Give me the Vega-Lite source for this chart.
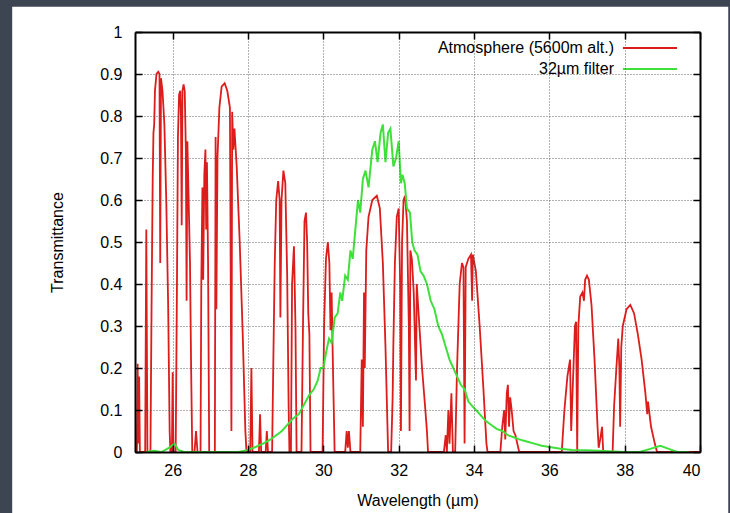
{
  "$schema": "https://vega.github.io/schema/vega-lite/v6.json",
  "width": 565,
  "height": 420,
  "autosize": {"type": "none"},
  "padding": {"left": 135, "top": 32, "right": 30, "bottom": 61},
  "background": "#3e4552",
  "datasets": {
    "atm": [
      {"w":25.0,"t":0},{"w":25.05,"t":0},{"w":25.07,"t":0.21},{"w":25.09,"t":0.02},{"w":25.11,"t":0.18},{"w":25.13,"t":0},{"w":25.27,"t":0},{"w":25.3,"t":0.53},{"w":25.33,"t":0},{"w":25.41,"t":0},{"w":25.44,"t":0.35},{"w":25.47,"t":0.65},{"w":25.49,"t":0.76},{"w":25.51,"t":0.78},{"w":25.53,"t":0.86},{"w":25.57,"t":0.9},{"w":25.62,"t":0.905},{"w":25.65,"t":0.9},{"w":25.67,"t":0.45},{"w":25.69,"t":0.89},{"w":25.73,"t":0.86},{"w":25.78,"t":0.78},{"w":25.83,"t":0.6},{"w":25.88,"t":0.35},{"w":25.92,"t":0.05},{"w":25.94,"t":0},{"w":25.98,"t":0},{"w":26.0,"t":0.19},{"w":26.02,"t":0},{"w":26.08,"t":0},{"w":26.11,"t":0.35},{"w":26.14,"t":0.75},{"w":26.17,"t":0.85},{"w":26.2,"t":0.86},{"w":26.22,"t":0.8},{"w":26.24,"t":0.54},{"w":26.26,"t":0.86},{"w":26.29,"t":0.875},{"w":26.32,"t":0.86},{"w":26.35,"t":0.72},{"w":26.37,"t":0.36},{"w":26.39,"t":0.74},{"w":26.42,"t":0.62},{"w":26.46,"t":0.45},{"w":26.49,"t":0.2},{"w":26.52,"t":0},{"w":26.58,"t":0},{"w":26.62,"t":0.05},{"w":26.66,"t":0},{"w":26.74,"t":0},{"w":26.76,"t":0.4},{"w":26.79,"t":0.63},{"w":26.81,"t":0.41},{"w":26.84,"t":0.66},{"w":26.87,"t":0.72},{"w":26.89,"t":0.53},{"w":26.91,"t":0.69},{"w":26.94,"t":0.45},{"w":26.97,"t":0},{"w":27.12,"t":0},{"w":27.14,"t":0.75},{"w":27.16,"t":0.34},{"w":27.19,"t":0.7},{"w":27.24,"t":0.82},{"w":27.3,"t":0.87},{"w":27.38,"t":0.878},{"w":27.45,"t":0.86},{"w":27.52,"t":0.82},{"w":27.56,"t":0.05},{"w":27.58,"t":0.81},{"w":27.61,"t":0.72},{"w":27.64,"t":0.77},{"w":27.7,"t":0.68},{"w":27.78,"t":0.5},{"w":27.86,"t":0.28},{"w":27.93,"t":0.05},{"w":27.96,"t":0},{"w":28.06,"t":0},{"w":28.09,"t":0.2},{"w":28.12,"t":0},{"w":28.29,"t":0},{"w":28.32,"t":0.09},{"w":28.35,"t":0},{"w":28.47,"t":0},{"w":28.5,"t":0.05},{"w":28.53,"t":0},{"w":28.64,"t":0},{"w":28.67,"t":0.2},{"w":28.71,"t":0.45},{"w":28.75,"t":0.6},{"w":28.8,"t":0.645},{"w":28.84,"t":0.6},{"w":28.86,"t":0.32},{"w":28.89,"t":0.6},{"w":28.94,"t":0.67},{"w":28.99,"t":0.64},{"w":29.04,"t":0.42},{"w":29.08,"t":0.1},{"w":29.1,"t":0},{"w":29.14,"t":0},{"w":29.17,"t":0.4},{"w":29.22,"t":0.49},{"w":29.26,"t":0.3},{"w":29.29,"t":0},{"w":29.42,"t":0},{"w":29.46,"t":0.3},{"w":29.5,"t":0.55},{"w":29.54,"t":0.57},{"w":29.57,"t":0.5},{"w":29.6,"t":0.33},{"w":29.63,"t":0.28},{"w":29.66,"t":0},{"w":29.98,"t":0},{"w":30.02,"t":0.3},{"w":30.07,"t":0.46},{"w":30.12,"t":0.5},{"w":30.16,"t":0.45},{"w":30.19,"t":0.29},{"w":30.22,"t":0.38},{"w":30.26,"t":0.18},{"w":30.3,"t":0},{"w":30.58,"t":0},{"w":30.62,"t":0.05},{"w":30.65,"t":0.01},{"w":30.68,"t":0.05},{"w":30.72,"t":0},{"w":30.98,"t":0},{"w":31.02,"t":0.22},{"w":31.05,"t":0.06},{"w":31.08,"t":0.38},{"w":31.1,"t":0.2},{"w":31.14,"t":0.48},{"w":31.2,"t":0.56},{"w":31.3,"t":0.6},{"w":31.42,"t":0.61},{"w":31.5,"t":0.58},{"w":31.58,"t":0.45},{"w":31.65,"t":0.25},{"w":31.72,"t":0},{"w":31.8,"t":0},{"w":31.84,"t":0.13},{"w":31.86,"t":0.26},{"w":31.9,"t":0.45},{"w":31.95,"t":0.56},{"w":32.0,"t":0.58},{"w":32.04,"t":0.4},{"w":32.06,"t":0.05},{"w":32.09,"t":0.5},{"w":32.13,"t":0.6},{"w":32.17,"t":0.61},{"w":32.22,"t":0.55},{"w":32.27,"t":0.3},{"w":32.29,"t":0.05},{"w":32.31,"t":0.48},{"w":32.35,"t":0.46},{"w":32.4,"t":0.38},{"w":32.46,"t":0.17},{"w":32.48,"t":0.4},{"w":32.55,"t":0.3},{"w":32.62,"t":0.2},{"w":32.7,"t":0.11},{"w":32.75,"t":0.05},{"w":32.78,"t":0},{"w":33.2,"t":0},{"w":33.25,"t":0.04},{"w":33.28,"t":0},{"w":33.32,"t":0.1},{"w":33.35,"t":0.02},{"w":33.4,"t":0.14},{"w":33.44,"t":0},{"w":33.5,"t":0},{"w":33.55,"t":0.2},{"w":33.62,"t":0.4},{"w":33.68,"t":0.45},{"w":33.72,"t":0.44},{"w":33.75,"t":0.02},{"w":33.78,"t":0.44},{"w":33.85,"t":0.46},{"w":33.92,"t":0.47},{"w":33.95,"t":0.36},{"w":33.97,"t":0.47},{"w":34.05,"t":0.43},{"w":34.15,"t":0.3},{"w":34.25,"t":0.15},{"w":34.33,"t":0.02},{"w":34.36,"t":0},{"w":34.7,"t":0},{"w":34.75,"t":0.06},{"w":34.8,"t":0.1},{"w":34.83,"t":0.03},{"w":34.87,"t":0.14},{"w":34.9,"t":0.16},{"w":34.93,"t":0.06},{"w":34.96,"t":0.13},{"w":35.0,"t":0.1},{"w":35.05,"t":0.05},{"w":35.1,"t":0.04},{"w":35.2,"t":0},{"w":36.33,"t":0},{"w":36.4,"t":0.1},{"w":36.48,"t":0.18},{"w":36.55,"t":0.22},{"w":36.58,"t":0.05},{"w":36.62,"t":0.15},{"w":36.68,"t":0.3},{"w":36.71,"t":0.31},{"w":36.74,"t":0},{"w":36.77,"t":0.3},{"w":36.82,"t":0.37},{"w":36.88,"t":0.38},{"w":36.92,"t":0.36},{"w":36.95,"t":0.41},{"w":37.0,"t":0.42},{"w":37.05,"t":0.41},{"w":37.12,"t":0.35},{"w":37.2,"t":0.22},{"w":37.28,"t":0.06},{"w":37.31,"t":0.01},{"w":37.35,"t":0.03},{"w":37.4,"t":0.06},{"w":37.43,"t":0},{"w":37.68,"t":0},{"w":37.72,"t":0.11},{"w":37.78,"t":0.2},{"w":37.83,"t":0.27},{"w":37.86,"t":0.2},{"w":37.88,"t":0.06},{"w":37.91,"t":0.25},{"w":37.95,"t":0.3},{"w":38.05,"t":0.34},{"w":38.15,"t":0.35},{"w":38.25,"t":0.33},{"w":38.35,"t":0.28},{"w":38.45,"t":0.22},{"w":38.55,"t":0.14},{"w":38.6,"t":0.09},{"w":38.62,"t":0.12},{"w":38.7,"t":0.06},{"w":38.8,"t":0.02},{"w":38.86,"t":0},{"w":40.0,"t":0}
    ],
    "filter": [
      {"w":25.3,"t":0},{"w":25.5,"t":0.003},{"w":25.7,"t":0},{"w":25.9,"t":0.01},{"w":26.05,"t":0.02},{"w":26.15,"t":0.005},{"w":26.3,"t":0},{"w":27.75,"t":0},{"w":28.0,"t":0.005},{"w":28.2,"t":0.012},{"w":28.4,"t":0.02},{"w":28.6,"t":0.03},{"w":28.75,"t":0.04},{"w":28.9,"t":0.05},{"w":29.05,"t":0.065},{"w":29.2,"t":0.08},{"w":29.35,"t":0.09},{"w":29.5,"t":0.115},{"w":29.62,"t":0.135},{"w":29.75,"t":0.15},{"w":29.85,"t":0.17},{"w":29.93,"t":0.2},{"w":30.0,"t":0.2},{"w":30.08,"t":0.24},{"w":30.15,"t":0.27},{"w":30.22,"t":0.26},{"w":30.3,"t":0.32},{"w":30.38,"t":0.33},{"w":30.45,"t":0.38},{"w":30.5,"t":0.36},{"w":30.58,"t":0.42},{"w":30.65,"t":0.41},{"w":30.72,"t":0.48},{"w":30.78,"t":0.46},{"w":30.85,"t":0.53},{"w":30.92,"t":0.6},{"w":30.98,"t":0.57},{"w":31.05,"t":0.65},{"w":31.12,"t":0.67},{"w":31.2,"t":0.63},{"w":31.3,"t":0.72},{"w":31.37,"t":0.74},{"w":31.44,"t":0.69},{"w":31.52,"t":0.76},{"w":31.58,"t":0.78},{"w":31.65,"t":0.69},{"w":31.72,"t":0.76},{"w":31.78,"t":0.77},{"w":31.86,"t":0.68},{"w":31.93,"t":0.7},{"w":32.0,"t":0.74},{"w":32.06,"t":0.64},{"w":32.1,"t":0.66},{"w":32.16,"t":0.64},{"w":32.22,"t":0.58},{"w":32.3,"t":0.57},{"w":32.36,"t":0.5},{"w":32.42,"t":0.48},{"w":32.5,"t":0.47},{"w":32.58,"t":0.43},{"w":32.66,"t":0.42},{"w":32.75,"t":0.4},{"w":32.85,"t":0.36},{"w":32.95,"t":0.34},{"w":33.05,"t":0.3},{"w":33.15,"t":0.28},{"w":33.25,"t":0.25},{"w":33.35,"t":0.22},{"w":33.45,"t":0.2},{"w":33.55,"t":0.18},{"w":33.65,"t":0.16},{"w":33.75,"t":0.15},{"w":33.85,"t":0.12},{"w":33.95,"t":0.11},{"w":34.05,"t":0.1},{"w":34.15,"t":0.09},{"w":34.3,"t":0.075},{"w":34.45,"t":0.065},{"w":34.6,"t":0.055},{"w":34.75,"t":0.05},{"w":34.9,"t":0.04},{"w":35.05,"t":0.035},{"w":35.2,"t":0.03},{"w":35.4,"t":0.025},{"w":35.6,"t":0.02},{"w":35.8,"t":0.015},{"w":36.0,"t":0.012},{"w":36.3,"t":0.008},{"w":36.6,"t":0.005},{"w":37.0,"t":0.004},{"w":37.3,"t":0.003},{"w":37.6,"t":0.002},{"w":38.0,"t":0},{"w":38.4,"t":0},{"w":38.7,"t":0.008},{"w":38.95,"t":0.015},{"w":39.15,"t":0.008},{"w":39.4,"t":0},{"w":39.7,"t":0}
    ]
  },
  "layer": [
    {
      "data": {"values": [{"panel": "backdrop"}]},
      "mark": {"type": "rect", "fill": "white", "stroke": null},
      "encoding": {
        "x": {"datum": 21.74, "type": "quantitative",
              "scale": {"domain": [25, 40], "nice": false, "zero": false},
              "axis": {"orient": "top", "values": [26,28,30,32,34,36,38,40], "labels": false, "grid": false, "title": null,
                       "tickSize": -7, "tickColor": "black", "tickWidth": 1.5, "domainColor": "black", "domainWidth": 2, "zindex": 1}},
        "x2": {"datum": 40.75},
        "y": {"datum": 1.06, "type": "quantitative",
              "scale": {"domain": [0, 1], "nice": false, "zero": false},
              "axis": {"orient": "right", "values": [0,0.1,0.2,0.3,0.4,0.5,0.6,0.7,0.8,0.9,1], "labels": false, "grid": false, "title": null,
                       "tickSize": -7, "tickColor": "black", "tickWidth": 1.5, "domainColor": "black", "domainWidth": 2, "zindex": 1}},
        "y2": {"datum": -0.2}
      }
    },
    {
      "data": {"name": "atm"},
      "mark": {"type": "line", "strokeWidth": 1.8, "interpolate": "linear"},
      "encoding": {
        "x": {"field": "w", "type": "quantitative",
              "scale": {"domain": [25, 40], "nice": false, "zero": false},
              "axis": {"orient": "bottom", "values": [26,28,30,32,34,36,38,40], "title": "Wavelength (µm)",
                       "tickSize": -7, "tickColor": "black", "tickWidth": 1.5, "domainColor": "black", "domainWidth": 2,
                       "labelPadding": 17, "titlePadding": 14, "grid": true, "zindex": 1}},
        "y": {"field": "t", "type": "quantitative",
              "scale": {"domain": [0, 1], "nice": false, "zero": false},
              "axis": {"orient": "left", "values": [0,0.1,0.2,0.3,0.4,0.5,0.6,0.7,0.8,0.9,1], "format": "~g", "title": "Transmittance",
                       "tickSize": -7, "tickColor": "black", "tickWidth": 1.5, "domainColor": "black", "domainWidth": 2,
                       "labelPadding": 20, "titlePadding": 34, "grid": true, "zindex": 1}},
        "color": {"datum": "Atmosphere (5600m alt.)", "type": "nominal",
                  "scale": {"domain": ["Atmosphere (5600m alt.)", "32µm filter"], "range": ["#dd1c1c", "#3fe03a"]},
                  "legend": {"title": " ", "titleOrient": "left", "titlePadding": 309}}
      }
    },
    {
      "data": {"name": "filter"},
      "mark": {"type": "line", "strokeWidth": 2, "interpolate": "linear"},
      "encoding": {
        "x": {"field": "w", "type": "quantitative", "scale": {"domain": [25, 40], "nice": false, "zero": false}, "axis": null},
        "y": {"field": "t", "type": "quantitative", "scale": {"domain": [0, 1], "nice": false, "zero": false}, "axis": null},
        "color": {"datum": "32µm filter", "type": "nominal"}
      }
    }
  ],
  "resolve": {"axis": {"x": "independent", "y": "independent"}},
  "config": {
    "font": "Liberation Sans",
    "view": {"stroke": null},
    "axis": {
      "labelFont": "Liberation Sans", "labelFontSize": 16, "labelColor": "black",
      "titleFont": "Liberation Sans", "titleFontSize": 16, "titleFontWeight": "normal", "titleColor": "black",
      "gridColor": "#555555", "gridDash": [1, 2], "gridWidth": 1, "gridOpacity": 0.9
    },
    "legend": {
      "orient": "none", "legendX": 196, "legendY": 6,
      "symbolType": "M-3,0H3", "symbolSize": 324, "symbolStrokeWidth": 2,
      "labelFont": "Liberation Sans", "labelFontSize": 16, "labelColor": "black", "labelLimit": 0,
      "labelAlign": "right", "labelOffset": -46, "rowPadding": 3, "padding": 0, "fillColor": "white",
      "titleFontSize": 16, "titleColor": "white"
    }
  }
}
